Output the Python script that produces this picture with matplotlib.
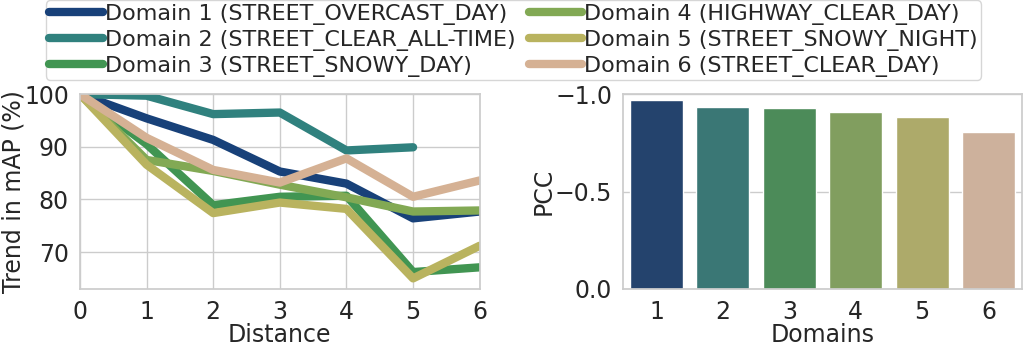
import numpy as np
import matplotlib
matplotlib.use('Agg')
import matplotlib.pyplot as plt
import seaborn as sns

# data
distance = [0, 1, 2, 3, 4, 5, 6]
labels = ['Domain 1 (STREET_OVERCAST_DAY)', 'Domain 2 (STREET_CLEAR_ALL-TIME)',
          'Domain 3 (STREET_SNOWY_DAY)', 'Domain 4 (HIGHWAY_CLEAR_DAY)',
          'Domain 5 (STREET_SNOWY_NIGHT)', 'Domain 6 (STREET_CLEAR_DAY)']
d1 = [100, 95.4, 91.3, 85.3, 83.0, 76.4, 77.7]
d2 = [100, 99.7, 96.2, 96.5, 89.3, 89.9]
d3 = [100, 90.5, 78.9, 80.5, 80.7, 66.2, 67.1]
d4 = [100, 87.5, 85.4, 82.8, 80.4, 77.7, 77.9]
d5 = [100, 86.6, 77.4, 79.4, 78.2, 65.0, 71.2]
d6 = [100, 91.7, 85.6, 83.2, 87.8, 80.5, 83.6]
domains = ['1', '2', '3', '4', '5', '6']
pcc = [-0.969, -0.932, -0.928, -0.909, -0.882, -0.807]

sns.set_theme(style='whitegrid')
plt.rcParams['font.family'] = ['DejaVu Sans']
colors = sns.color_palette('gist_earth', 6)

fig = plt.figure(figsize=(10.25, 3.46), dpi=100)
ax1 = fig.add_axes([0.078, 0.165, 0.39, 0.563])
ax2 = fig.add_axes([0.608, 0.165, 0.389, 0.563])

series = [d1, d2, d3, d4, d5, d6]
for i, y in enumerate(series):
    ax1.plot(distance[:len(y)], y, color=colors[i], lw=6, label=labels[i],
             solid_capstyle='round')
ax1.set_xlim(0, 6)
ax1.set_ylim(63, 100)
ax1.set_yticks([70, 80, 90, 100])
ax1.set_xticks(distance)
ax1.set_xlabel('Distance', fontsize=17, labelpad=-1)
ax1.set_ylabel('Trend in mAP (%)', fontsize=17, labelpad=-1)
ax1.tick_params(labelsize=17, pad=2)

sns.barplot(x=domains, y=pcc, hue=domains, palette=colors, legend=False, ax=ax2)
ax2.set_ylim(0, -1.0)
ax2.set_yticks([0.0, -0.5, -1.0])
ax2.set_xlim(-0.5, 5.5)
ax2.set_xlabel('Domains', fontsize=17, labelpad=-1)
ax2.set_ylabel('PCC', fontsize=17, labelpad=-1)
ax2.tick_params(labelsize=17, pad=2)

handles, labs = ax1.get_legend_handles_labels()
fig.legend(handles, labs, ncol=2, loc='upper center', bbox_to_anchor=(0.501, 1.005),
           fontsize=16, handlelength=2.4, handletextpad=0.1, columnspacing=0.6,
           labelspacing=0.22, borderpad=0.15, borderaxespad=0.1)

fig.savefig('out.png', dpi=100)
